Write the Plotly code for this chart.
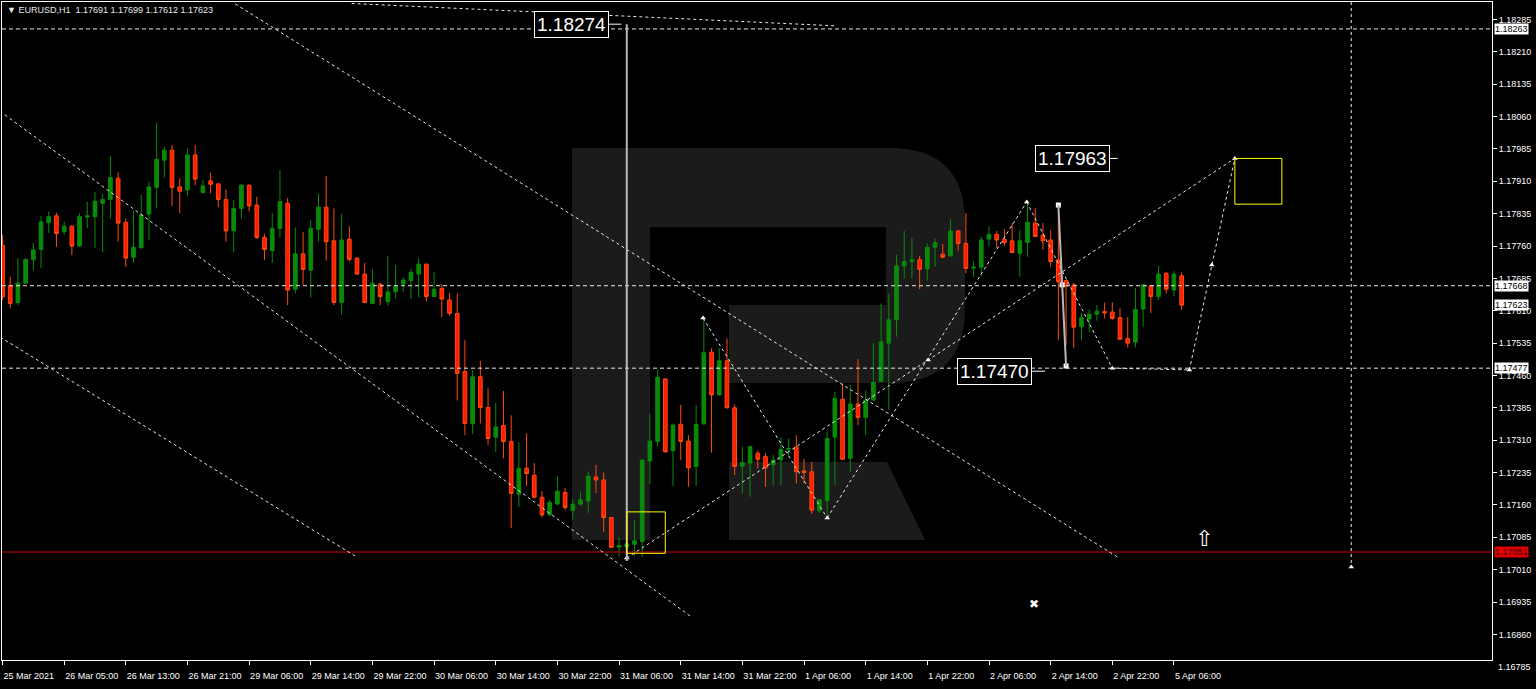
import plotly.graph_objects as go

# ---------------- data (EURUSD, H1) ----------------
OPEN = [1.17762,1.17668,1.17629,1.17674,1.17728,1.17752,1.17814,1.17830,1.17793,1.17806,
        1.17760,1.17827,1.17828,1.17859,1.17868,1.17917,1.17815,1.17734,1.17756,1.17834,
        1.17896,1.17959,1.17982,1.17897,1.17890,1.17971,1.17884,1.17911,1.17904,1.17868,
        1.17795,1.17847,1.17901,1.17855,1.17780,1.17749,1.17801,1.17859,1.17660,1.17742,
        1.17704,1.17799,1.17850,1.17772,1.17629,1.17776,1.17732,1.17695,1.17627,1.17672,
        1.17631,1.17654,1.17672,1.17680,1.17695,1.17718,1.17643,1.17662,1.17635,1.17604,
        1.17469,1.17348,1.17457,1.17386,1.17317,1.17344,1.17307,1.17185,1.17245,1.17229,
        1.17178,1.17137,1.17162,1.17189,1.17147,1.17162,1.17169,1.17225,1.17218,1.17131,
        1.17062,1.17063,1.17069,1.17075,1.17262,1.17307,1.17452,1.17286,1.17347,1.17308,
        1.17249,1.17348,1.17514,1.17415,1.17494,1.17385,1.17250,1.17257,1.17280,1.17272,
        1.17253,1.17264,1.17289,1.17294,1.17239,1.17237,1.17147,1.17170,1.17317,1.17405,
        1.17268,1.17394,1.17363,1.17403,1.17446,1.17535,1.17589,1.17714,1.17724,1.17728,
        1.17707,1.17757,1.17741,1.17737,1.17795,1.17766,1.17709,1.17711,1.17776,1.17787,
        1.17775,1.17772,1.17743,1.17768,1.17813,1.17785,1.17774,1.17728,1.17680,1.17670,
        1.17573,1.17591,1.17602,1.17608,1.17607,1.17594,1.17546,1.17537,1.17614,1.17668,
        1.17643,1.17697,1.17658,1.17691]
HIGH = [1.17786,1.17689,1.17732,1.17732,1.17767,1.17830,1.17840,1.17837,1.17816,1.17808,
        1.17836,1.17863,1.17886,1.17881,1.17969,1.17931,1.17824,1.17843,1.17878,1.17909,
        1.18046,1.17990,1.17994,1.17917,1.17986,1.17994,1.17913,1.17930,1.17905,1.17891,
        1.17867,1.17904,1.17903,1.17874,1.17788,1.17837,1.17936,1.17871,1.17803,1.17793,
        1.17820,1.17881,1.17922,1.17847,1.17834,1.17806,1.17733,1.17721,1.17706,1.17673,
        1.17737,1.17716,1.17687,1.17708,1.17732,1.17719,1.17700,1.17672,1.17651,1.17650,
        1.17542,1.17473,1.17494,1.17430,1.17396,1.17424,1.17368,1.17305,1.17326,1.17257,
        1.17192,1.17172,1.17227,1.17199,1.17173,1.17191,1.17237,1.17253,1.17235,1.17132,
        1.17085,1.17083,1.17124,1.17265,1.17371,1.17474,1.17454,1.17349,1.17392,1.17322,
        1.17392,1.17595,1.17523,1.17523,1.17546,1.17393,1.17295,1.17297,1.17286,1.17280,
        1.17276,1.17317,1.17314,1.17322,1.17266,1.17260,1.17172,1.17330,1.17422,1.17442,
        1.17438,1.17498,1.17426,1.17535,1.17627,1.17649,1.17739,1.17795,1.17779,1.17737,
        1.17766,1.17778,1.17765,1.17822,1.17797,1.17836,1.17726,1.17782,1.17806,1.17795,
        1.17799,1.17813,1.17797,1.17865,1.17848,1.17813,1.17797,1.17836,1.17681,1.17674,
        1.17605,1.17613,1.17623,1.17629,1.17630,1.17616,1.17595,1.17663,1.17671,1.17670,
        1.17714,1.17700,1.17702,1.17699]
LOW = [1.17635,1.17616,1.17623,1.17672,1.17704,1.17709,1.17790,1.17758,1.17786,1.17739,
       1.17758,1.17801,1.17755,1.17745,1.17824,1.17770,1.17712,1.17721,1.17754,1.17774,
       1.17847,1.17919,1.17853,1.17836,1.17876,1.17901,1.17882,1.17882,1.17850,1.17770,
       1.17745,1.17824,1.17840,1.17776,1.17728,1.17721,1.17780,1.17623,1.17650,1.17670,
       1.17641,1.17770,1.17726,1.17623,1.17600,1.17724,1.17693,1.17628,1.17626,1.17623,
       1.17622,1.17639,1.17654,1.17637,1.17641,1.17631,1.17642,1.17595,1.17598,1.17402,
       1.17322,1.17324,1.17349,1.17299,1.17283,1.17268,1.17106,1.17155,1.17204,1.17175,
       1.17131,1.17135,1.17160,1.17148,1.17127,1.17158,1.17142,1.17188,1.17098,1.17061,
       1.17040,1.17037,1.17042,1.17040,1.17209,1.17295,1.17282,1.17204,1.17264,1.17202,
       1.17204,1.17346,1.17281,1.17413,1.17384,1.17229,1.17187,1.17179,1.17245,1.17202,
       1.17206,1.17206,1.17276,1.17210,1.17210,1.17139,1.17141,1.17129,1.17206,1.17264,
       1.17237,1.17345,1.17322,1.17402,1.17445,1.17380,1.17550,1.17685,1.17685,1.17660,
       1.17680,1.17712,1.17732,1.17736,1.17749,1.17697,1.17687,1.17689,1.17760,1.17755,
       1.17760,1.17743,1.17689,1.17735,1.17781,1.17751,1.17712,1.17542,1.17531,1.17523,
       1.17541,1.17561,1.17587,1.17592,1.17589,1.17543,1.17525,1.17525,1.17573,1.17605,
       1.17635,1.17650,1.17644,1.17612]
CLOSE = [1.17642,1.17627,1.17674,1.17729,1.17751,1.17816,1.17828,1.17789,1.17806,1.17760,
         1.17828,1.17830,1.17864,1.17868,1.17919,1.17813,1.17732,1.17757,1.17832,1.17897,
         1.17961,1.17982,1.17896,1.17887,1.17971,1.17915,1.17899,1.17903,1.17868,1.17795,
         1.17847,1.17901,1.17853,1.17780,1.17752,1.17801,1.17863,1.17658,1.17742,1.17706,
         1.17801,1.17850,1.17770,1.17629,1.17774,1.17729,1.17695,1.17629,1.17674,1.17643,
         1.17654,1.17667,1.17681,1.17699,1.17718,1.17643,1.17660,1.17637,1.17604,1.17465,
         1.17349,1.17457,1.17386,1.17314,1.17341,1.17307,1.17187,1.17245,1.17233,1.17178,
         1.17137,1.17166,1.17192,1.17154,1.17162,1.17172,1.17227,1.17218,1.17131,1.17062,
         1.17066,1.17070,1.17077,1.17264,1.17308,1.17456,1.17283,1.17345,1.17307,1.17246,
         1.17347,1.17513,1.17415,1.17494,1.17385,1.17249,1.17258,1.17295,1.17266,1.17246,
         1.17264,1.17289,1.17291,1.17237,1.17235,1.17148,1.17172,1.17314,1.17407,1.17266,
         1.17394,1.17363,1.17403,1.17444,1.17538,1.17589,1.17714,1.17724,1.17728,1.17706,
         1.17757,1.17768,1.17734,1.17795,1.17766,1.17708,1.17711,1.17774,1.17787,1.17774,
         1.17768,1.17745,1.17772,1.17815,1.17782,1.17772,1.17724,1.17677,1.17667,1.17572,
         1.17594,1.17602,1.17609,1.17605,1.17592,1.17544,1.17535,1.17613,1.17670,1.17643,
         1.17695,1.17660,1.17695,1.17623]

TIME_LABELS = ["25 Mar 2021", "26 Mar 05:00", "26 Mar 13:00", "26 Mar 21:00", "29 Mar 06:00",
               "29 Mar 14:00", "29 Mar 22:00", "30 Mar 06:00", "30 Mar 14:00", "30 Mar 22:00",
               "31 Mar 06:00", "31 Mar 14:00", "31 Mar 22:00", "1 Apr 06:00", "1 Apr 14:00",
               "1 Apr 22:00", "2 Apr 06:00", "2 Apr 14:00", "2 Apr 22:00", "5 Apr 06:00"]
LABEL_EVERY = 8
PRICE_TICKS = [1.18285, 1.18210, 1.18135, 1.18060, 1.17985, 1.17910, 1.17835, 1.17760,
               1.17685, 1.17610, 1.17535, 1.17460, 1.17385, 1.17310, 1.17235, 1.17160,
               1.17085, 1.17010, 1.16935, 1.16860]
PRICE_TICK_LOW = 1.16785

DASHED_LEVELS = [1.18263, 1.17668, 1.17477]
SUPPORT_LEVEL = 1.17051
BID = 1.17623
HEADER = "EURUSD,H1  1.17691 1.17699 1.17612 1.17623"

# drawings in (bar index, price)
CHANNEL_LINES = [((30.2, 1.18321), (144.7, 1.17039)),
                 ((0.3, 1.18064), (89.2, 1.16903)),
                 ((-0.3, 1.17549), (46.0, 1.17039)),
                 ((45.3, 1.18322), (108.3, 1.18270))]
WAVE_LINES = [((90.9, 1.17593), (107.0, 1.17130)),
              ((81.0, 1.17037), (159.9, 1.17963)),
              ((107.0, 1.17130), (132.9, 1.17862)),
              ((132.9, 1.17862), (144.0, 1.17477)),
              ((144.0, 1.17477), (154.0, 1.17473)),
              ((154.0, 1.17473), (159.9, 1.17963))]
WAVE_MARKS_X = [81.0, 107.0, 132.9, 144.0, 154.0, 156.9, 159.9, 120.1, 175.0, 90.9]
WAVE_MARKS_Y = [1.17037, 1.17130, 1.17862, 1.17477, 1.17473, 1.17716, 1.17963, 1.17496, 1.17016, 1.17593]
TIME_LINE = (175.0, 1.17016)
LOW_MARK_LINE = (81.0, 1.18274, 1.17030)
PRICE_ARROW = [(137.0, 1.17855), (137.5, 1.17670), (138.0, 1.17482)]
TARGET_BOXES = [((81.0, 1.17144), (86.0, 1.17048)), ((159.9, 1.17963), (166.0, 1.17857))]
PRICE_LABELS = [(78.7, 80.3, 1.18274), (143.7, 144.7, 1.17963), (133.6, 135.3, 1.17470)]
UP_ARROW = (155.9, 1.17083)
CROSS = (133.8, 1.16931)

# ---------------- figure ----------------
W, H = 1536, 689
ML, MR, MT, MB = 2, 44, 2, 29
PW, PH = W - ML - MR, H - MT - MB
BAR_PX = 7.707
FIRST_PX = 2.5
Y_RANGE = [1.168008, 1.183254]

def pp(px, py):
    return f"{(px - ML) / PW:.5f},{(H - MB - py) / PH:.5f}"

idx = list(range(len(OPEN)))
fig = go.Figure()
fig.add_trace(go.Candlestick(
    x=idx, open=OPEN, high=HIGH, low=LOW, close=CLOSE,
    increasing=dict(line=dict(color="#0a8a0a", width=1), fillcolor="#0a8a0a"),
    decreasing=dict(line=dict(color="#ff4a10", width=1), fillcolor="#ff1c00"),
    whiskerwidth=0, showlegend=False, hoverinfo="skip"))

shapes = []
# RoboForex-like "R" watermark
logo = (f"M{pp(572,148)} L{pp(890,148)} Q{pp(965,148)} {pp(965,223)} L{pp(965,308)} "
        f"Q{pp(965,383)} {pp(890,383)} L{pp(729,383)} L{pp(729,305)} L{pp(886,305)} "
        f"L{pp(886,227)} L{pp(650,227)} L{pp(650,540)} L{pp(572,540)} Z")
leg = f"M{pp(729,462)} L{pp(887,462)} L{pp(925,540)} L{pp(729,540)} Z"
for pth in (logo, leg):
    shapes.append(dict(type="path", path=pth, xref="paper", yref="paper",
                       fillcolor="#1b1b1b", line=dict(width=0), layer="below"))

for lv in DASHED_LEVELS:
    shapes.append(dict(type="line", xref="paper", yref="y", x0=0, x1=1, y0=lv, y1=lv,
                       line=dict(color="#e8e8e8", width=1, dash="4px,3px")))
shapes.append(dict(type="line", xref="paper", yref="y", x0=0, x1=1, y0=SUPPORT_LEVEL,
                   y1=SUPPORT_LEVEL, line=dict(color="#d00000", width=1)))
for (a, b) in CHANNEL_LINES + WAVE_LINES:
    shapes.append(dict(type="line", xref="x", yref="y", x0=a[0], y0=a[1], x1=b[0], y1=b[1],
                       line=dict(color="#e8e8e8", width=1, dash="3px,3px")))
shapes.append(dict(type="line", xref="x", yref="y", x0=TIME_LINE[0], x1=TIME_LINE[0],
                   y0=Y_RANGE[1], y1=TIME_LINE[1], line=dict(color="#e8e8e8", width=1, dash="3px,3px")))
shapes.append(dict(type="line", xref="x", yref="y", x0=LOW_MARK_LINE[0], x1=LOW_MARK_LINE[0],
                   y0=LOW_MARK_LINE[1], y1=LOW_MARK_LINE[2], line=dict(color="#b8b8b8", width=2)))
shapes.append(dict(type="line", xref="x", yref="y", x0=PRICE_ARROW[0][0], y0=PRICE_ARROW[0][1],
                   x1=PRICE_ARROW[2][0], y1=PRICE_ARROW[2][1], line=dict(color="#b8b8b8", width=2)))
for (a, b) in TARGET_BOXES:
    shapes.append(dict(type="rect", xref="x", yref="y", x0=a[0], y0=a[1], x1=b[0], y1=b[1],
                       line=dict(color="#ffff00", width=1), fillcolor="rgba(0,0,0,0)"))
for (xl, xc, pr) in PRICE_LABELS:
    shapes.append(dict(type="line", xref="x", yref="y", x0=xl, x1=xc, y0=pr, y1=pr,
                       line=dict(color="#ffffff", width=1)))

fig.add_trace(go.Scatter(x=WAVE_MARKS_X, y=WAVE_MARKS_Y, mode="markers",
                         marker=dict(symbol="triangle-up", size=5, color="#ffffff"),
                         showlegend=False, hoverinfo="skip"))
fig.add_trace(go.Scatter(x=[p[0] for p in PRICE_ARROW], y=[p[1] for p in PRICE_ARROW],
                         mode="markers", marker=dict(symbol="square", size=5, color="#ffffff"),
                         showlegend=False, hoverinfo="skip"))

ann = []
ann.append(dict(xref="paper", yref="paper", x=(5 - ML) / PW, y=(H - MB - 10) / PH,
                xanchor="left", yanchor="middle", showarrow=False,
                text="\u25bc " + HEADER,
                font=dict(family="Liberation Sans, Arial", size=9, color="#e8e8e8")))
for (xl, xc, pr) in PRICE_LABELS:
    ann.append(dict(xref="x", yref="y", x=xl, y=pr, xanchor="right", yanchor="middle",
                    showarrow=False, text=f"{pr:.5f}", bgcolor="#000000",
                    bordercolor="#ffffff", borderwidth=1, borderpad=2,
                    font=dict(family="Liberation Sans Narrow, Liberation Sans, Arial",
                              size=19, color="#ffffff")))
for lv in DASHED_LEVELS + [BID]:
    ann.append(dict(xref="paper", yref="y", x=1, y=lv, xanchor="left", yanchor="middle",
                    xshift=2, showarrow=False, text=f"{lv:.5f}", bgcolor="#ffffff",
                    borderpad=0, font=dict(family="Liberation Sans, Arial", size=9, color="#000000")))
ann.append(dict(xref="paper", yref="y", x=1, y=SUPPORT_LEVEL, xanchor="left", yanchor="middle",
                xshift=2, showarrow=False, text=f"{SUPPORT_LEVEL:.5f}", bgcolor="#e00000",
                borderpad=0, font=dict(family="Liberation Sans, Arial", size=9, color="#400000")))
low_tick_paper = (PRICE_TICK_LOW - Y_RANGE[0]) / (Y_RANGE[1] - Y_RANGE[0])
ann.append(dict(xref="paper", yref="paper", x=1, y=low_tick_paper, xanchor="left", yanchor="middle",
                xshift=4, showarrow=False, text=f"{PRICE_TICK_LOW:.5f}",
                font=dict(family="Liberation Sans, Arial", size=9, color="#ffffff")))
ann.append(dict(xref="x", yref="y", x=UP_ARROW[0], y=UP_ARROW[1], showarrow=False, text="\u21e7",
                font=dict(family="DejaVu Sans", size=22, color="#ffffff")))
ann.append(dict(xref="x", yref="y", x=CROSS[0], y=CROSS[1], showarrow=False, text="\u2716",
                font=dict(family="DejaVu Sans", size=12, color="#ffffff")))

tickvals = idx[::LABEL_EVERY]
fig.update_layout(
    width=W, height=H, margin=dict(l=ML, r=MR, t=MT, b=MB, autoexpand=False),
    paper_bgcolor="#000000", plot_bgcolor="#000000",
    shapes=shapes, annotations=ann, showlegend=False, boxgap=0.32,
    xaxis=dict(range=[(ML - FIRST_PX) / BAR_PX, (W - MR - FIRST_PX) / BAR_PX],
               tickvals=tickvals, ticktext=TIME_LABELS[:len(tickvals)],
               ticks="outside", ticklen=4, tickcolor="#ffffff", tickangle=0,
               ticklabelposition="outside right", ticklabelstandoff=7, automargin=False,
               tickfont=dict(family="Liberation Sans, Arial", size=9, color="#ffffff"),
               showgrid=False, zeroline=False, showline=True, linecolor="#ffffff",
               linewidth=1, mirror=True, rangeslider=dict(visible=False), fixedrange=True),
    yaxis=dict(range=Y_RANGE, side="right", tickvals=PRICE_TICKS,
               tickformat=".5f", ticks="outside", ticklen=4, tickcolor="#ffffff",
               automargin=False,
               tickfont=dict(family="Liberation Sans, Arial", size=9, color="#ffffff"),
               showgrid=False, zeroline=False, showline=True, linecolor="#ffffff",
               linewidth=1, mirror=True, fixedrange=True),
)
fig.write_html("out.html", config={"displayModeBar": False},
               post_script="document.body.style.margin='0';document.body.style.overflow='hidden';"
                           "document.body.style.background='#000';")
